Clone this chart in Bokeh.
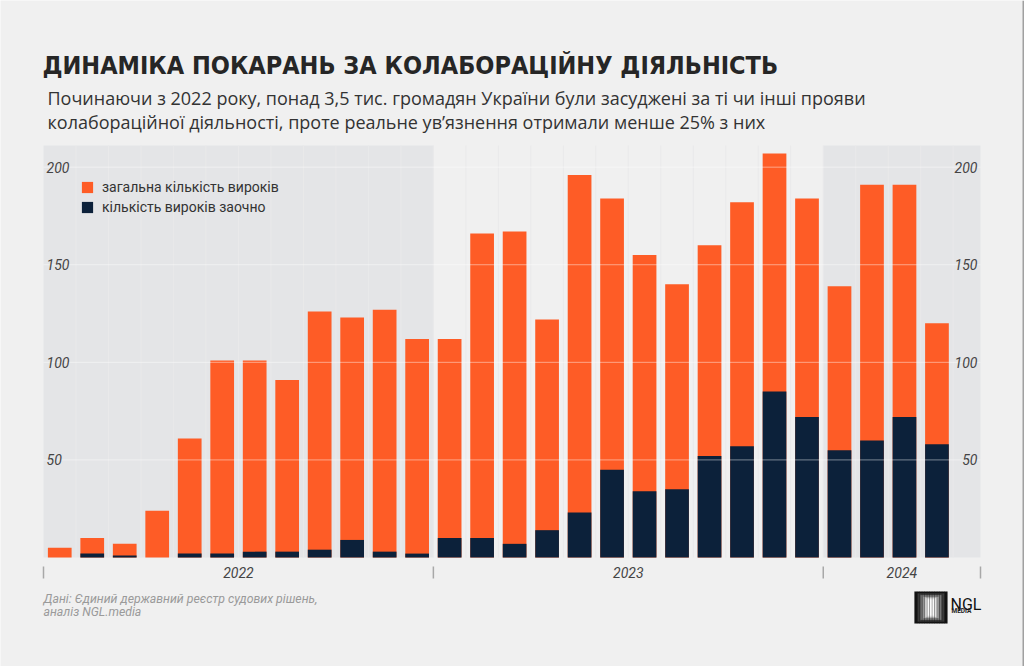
from bokeh.plotting import figure
from bokeh.models import ColumnDataSource, BoxAnnotation, Label, Legend, LegendItem, Range1d
from bokeh.core.properties import value
from bokeh.embed import file_html
from bokeh.resources import INLINE

# ---------------- data ----------------
months = ["01.2022", "02.2022", "03.2022", "04.2022", "05.2022", "06.2022",
          "07.2022", "08.2022", "09.2022", "10.2022", "11.2022", "12.2022",
          "01.2023", "02.2023", "03.2023", "04.2023", "05.2023", "06.2023",
          "07.2023", "08.2023", "09.2023", "10.2023", "11.2023", "12.2023",
          "01.2024", "02.2024", "03.2024", "04.2024"]
total_verdicts = [5, 10, 7, 24, 61, 101, 101, 91, 126, 123, 127, 112,
                  112, 166, 167, 122, 196, 184, 155, 140, 160, 182, 207, 184,
                  139, 191, 191, 120]
absentia_verdicts = [0, 2, 1, 0, 2, 2, 3, 3, 4, 9, 3, 2,
                     10, 10, 7, 14, 23, 45, 34, 35, 52, 57, 85, 72,
                     55, 60, 72, 58]
years = ["2022", "2023", "2024"]
months_per_year = [12, 12, 4]
y_ticks = [50, 100, 150, 200]
legend_labels = ["загальна кількість вироків", "кількість вироків заочно"]

title_text = "ДИНАМІКА ПОКАРАНЬ ЗА КОЛАБОРАЦІЙНУ ДІЯЛЬНІСТЬ"
subtitle_lines = ["Починаючи з 2022 року, понад 3,5 тис. громадян України були засуджені за ті чи інші прояви",
                  "колабораційної діяльності, проте реальне ув’язнення отримали менше 25% з них"]
source_lines = ["Дані: Єдиний державний реєстр судових рішень,", "аналіз NGL.media"]

# ---------------- style / layout ----------------
ORANGE = "#fe5c26"
NAVY = "#0c213a"
BG = "#f0f0f0"
SHADE = "#e4e5e7"
W, H = 1024, 666
FL, FR, FT, FB = 43, 980, 145, 557   # chart area edges on the canvas (px)

x = list(range(len(months)))
x_start, x_end = -0.5, 28.34
y_top = 211.1
sx = (FR - FL) / (x_end - x_start)   # px per month
sy = (FB - FT) / y_top               # px per verdict

src = ColumnDataSource(dict(x=x, total=total_verdicts, absentia=absentia_verdicts, m=months))

p = figure(width=W, height=H,
           x_range=Range1d(x_start - FL / sx, x_end + (W - FR) / sx),
           y_range=Range1d(-(H - FB) / sy, y_top + FT / sy),
           output_backend="svg", toolbar_location=None,
           x_axis_location=None, y_axis_location=None,
           min_border=0, background_fill_color=BG, border_fill_color=BG, outline_line_color=None)
p.xgrid.visible = False
p.ygrid.visible = False

# year bands
bounds = [x_start]
acc = -0.5
for n in months_per_year:
    acc += n
    bounds.append(acc)
bounds[-1] = x_end
for i in (0, 2):
    p.add_layout(BoxAnnotation(left=bounds[i], right=bounds[i + 1], bottom=0, top=y_top,
                               fill_color=SHADE, fill_alpha=1, line_color=None, level="underlay"))

# vertical month separators
seps = [i + 0.5 for i in x]
p.segment(x0=seps, y0=[0] * len(seps), x1=seps, y1=[y_top] * len(seps),
          line_color="#e9e9ea", line_width=1)

r_total = p.vbar(x="x", top="total", width=0.73, source=src, color=ORANGE, line_color=None)
r_abs = p.vbar(x="x", top="absentia", width=0.73, source=src, color=NAVY, line_color=None)

# horizontal grid lines (over the bars)
p.segment(x0=[x_start] * len(y_ticks), y0=y_ticks, x1=[x_end] * len(y_ticks), y1=y_ticks,
          line_color="#ffffff", line_alpha=0.45, line_width=1)

# y tick labels inside the chart, left and right
tick_txt = [str(v) for v in y_ticks]
p.text(x=[x_start] * len(y_ticks), y=y_ticks, text=tick_txt, x_offset=3,
       text_align="left", text_baseline="middle", text_font=value("Roboto"),
       text_font_style="italic", text_font_size="14px", text_color="#444444")
p.text(x=[x_end] * len(y_ticks), y=y_ticks, text=tick_txt, x_offset=-3,
       text_align="right", text_baseline="middle", text_font=value("Roboto"),
       text_font_style="italic", text_font_size="14px", text_color="#444444")

# year axis: boundary ticks + centred year labels
p.segment(x0=bounds, y0=[-9 / sy] * len(bounds), x1=bounds, y1=[-21 / sy] * len(bounds),
          line_color="#a8a8a8", line_width=1.5)
centers = [(bounds[i] + bounds[i + 1]) / 2 for i in range(len(years))]
p.text(x=centers, y=[0] * len(years), text=years, y_offset=15,
       text_align="center", text_baseline="middle", text_font=value("Roboto"),
       text_font_style="italic", text_font_size="14px", text_color="#444444")

# legend
legend = Legend(items=[LegendItem(label=legend_labels[0], renderers=[r_total]),
                       LegendItem(label=legend_labels[1], renderers=[r_abs])],
                location=(80, H - 215), padding=0, margin=0, spacing=4,
                glyph_width=14, glyph_height=14, label_height=14, label_standoff=8,
                label_text_font="Roboto", label_text_font_size="14px", label_text_color="#333333",
                background_fill_alpha=0, border_line_color=None)
p.add_layout(legend, "center")


def lab(text, cx, cy, **kw):
    p.add_layout(Label(x=cx, y=H - cy, x_units="screen", y_units="screen", text=text,
                       text_baseline="alphabetic", **kw))


lab(title_text, 42, 65, text_font="DejaVu Sans Condensed", text_font_style="bold",
    text_font_size="25px", text_color="#262626")
lab(subtitle_lines[0], 47, 97, text_font="Open Sans", text_font_size="18px", text_color="#333333")
lab(subtitle_lines[1], 47, 121, text_font="Open Sans", text_font_size="18px", text_color="#333333")
lab(source_lines[0], 43, 598, text_font="Roboto", text_font_style="italic",
    text_font_size="12.3px", text_color="#9a9a9a")
lab(source_lines[1], 43, 611, text_font="Roboto", text_font_style="italic",
    text_font_size="12.3px", text_color="#9a9a9a")

# logo
logo_layers = [(0, "#111111"), (3, "#3a3a3a"), (6, "#777777"), (9, "#b5b5b5"),
               (11, "#e2e2e2"), (13, "#fafafa")]
for inset, col in logo_layers:
    p.add_layout(BoxAnnotation(left=914 + inset, right=947 - inset,
                               bottom=H - 623 + inset * 0.6, top=H - 591 - inset * 0.6,
                               left_units="screen", right_units="screen",
                               bottom_units="screen", top_units="screen",
                               fill_color=col, fill_alpha=1, line_color=None, level="overlay"))
p.add_layout(BoxAnnotation(left=914, right=947, bottom=H - 623, top=H - 591,
                           left_units="screen", right_units="screen",
                           bottom_units="screen", top_units="screen",
                           fill_alpha=0, line_color=None, hatch_pattern="vertical_line",
                           hatch_color="#1a1a1a", hatch_alpha=0.5, hatch_scale=2.5, hatch_weight=1,
                           level="overlay"))
lab("NGL", 950, 603.5, text_font="Roboto", text_font_size="16px", text_color="#111111")
lab("MEDIA", 951, 610, text_font="Roboto", text_font_style="bold",
    text_font_size="6.5px", text_color="#222222")

# thin frame line at the right edge of the picture
p.add_layout(BoxAnnotation(left=1022, right=1024, bottom=0, top=H,
                           left_units="screen", right_units="screen",
                           bottom_units="screen", top_units="screen",
                           fill_color="#a0a0a0", fill_alpha=1, line_color=None, level="overlay"))

open("out.html", "w").write(file_html(p, INLINE))
